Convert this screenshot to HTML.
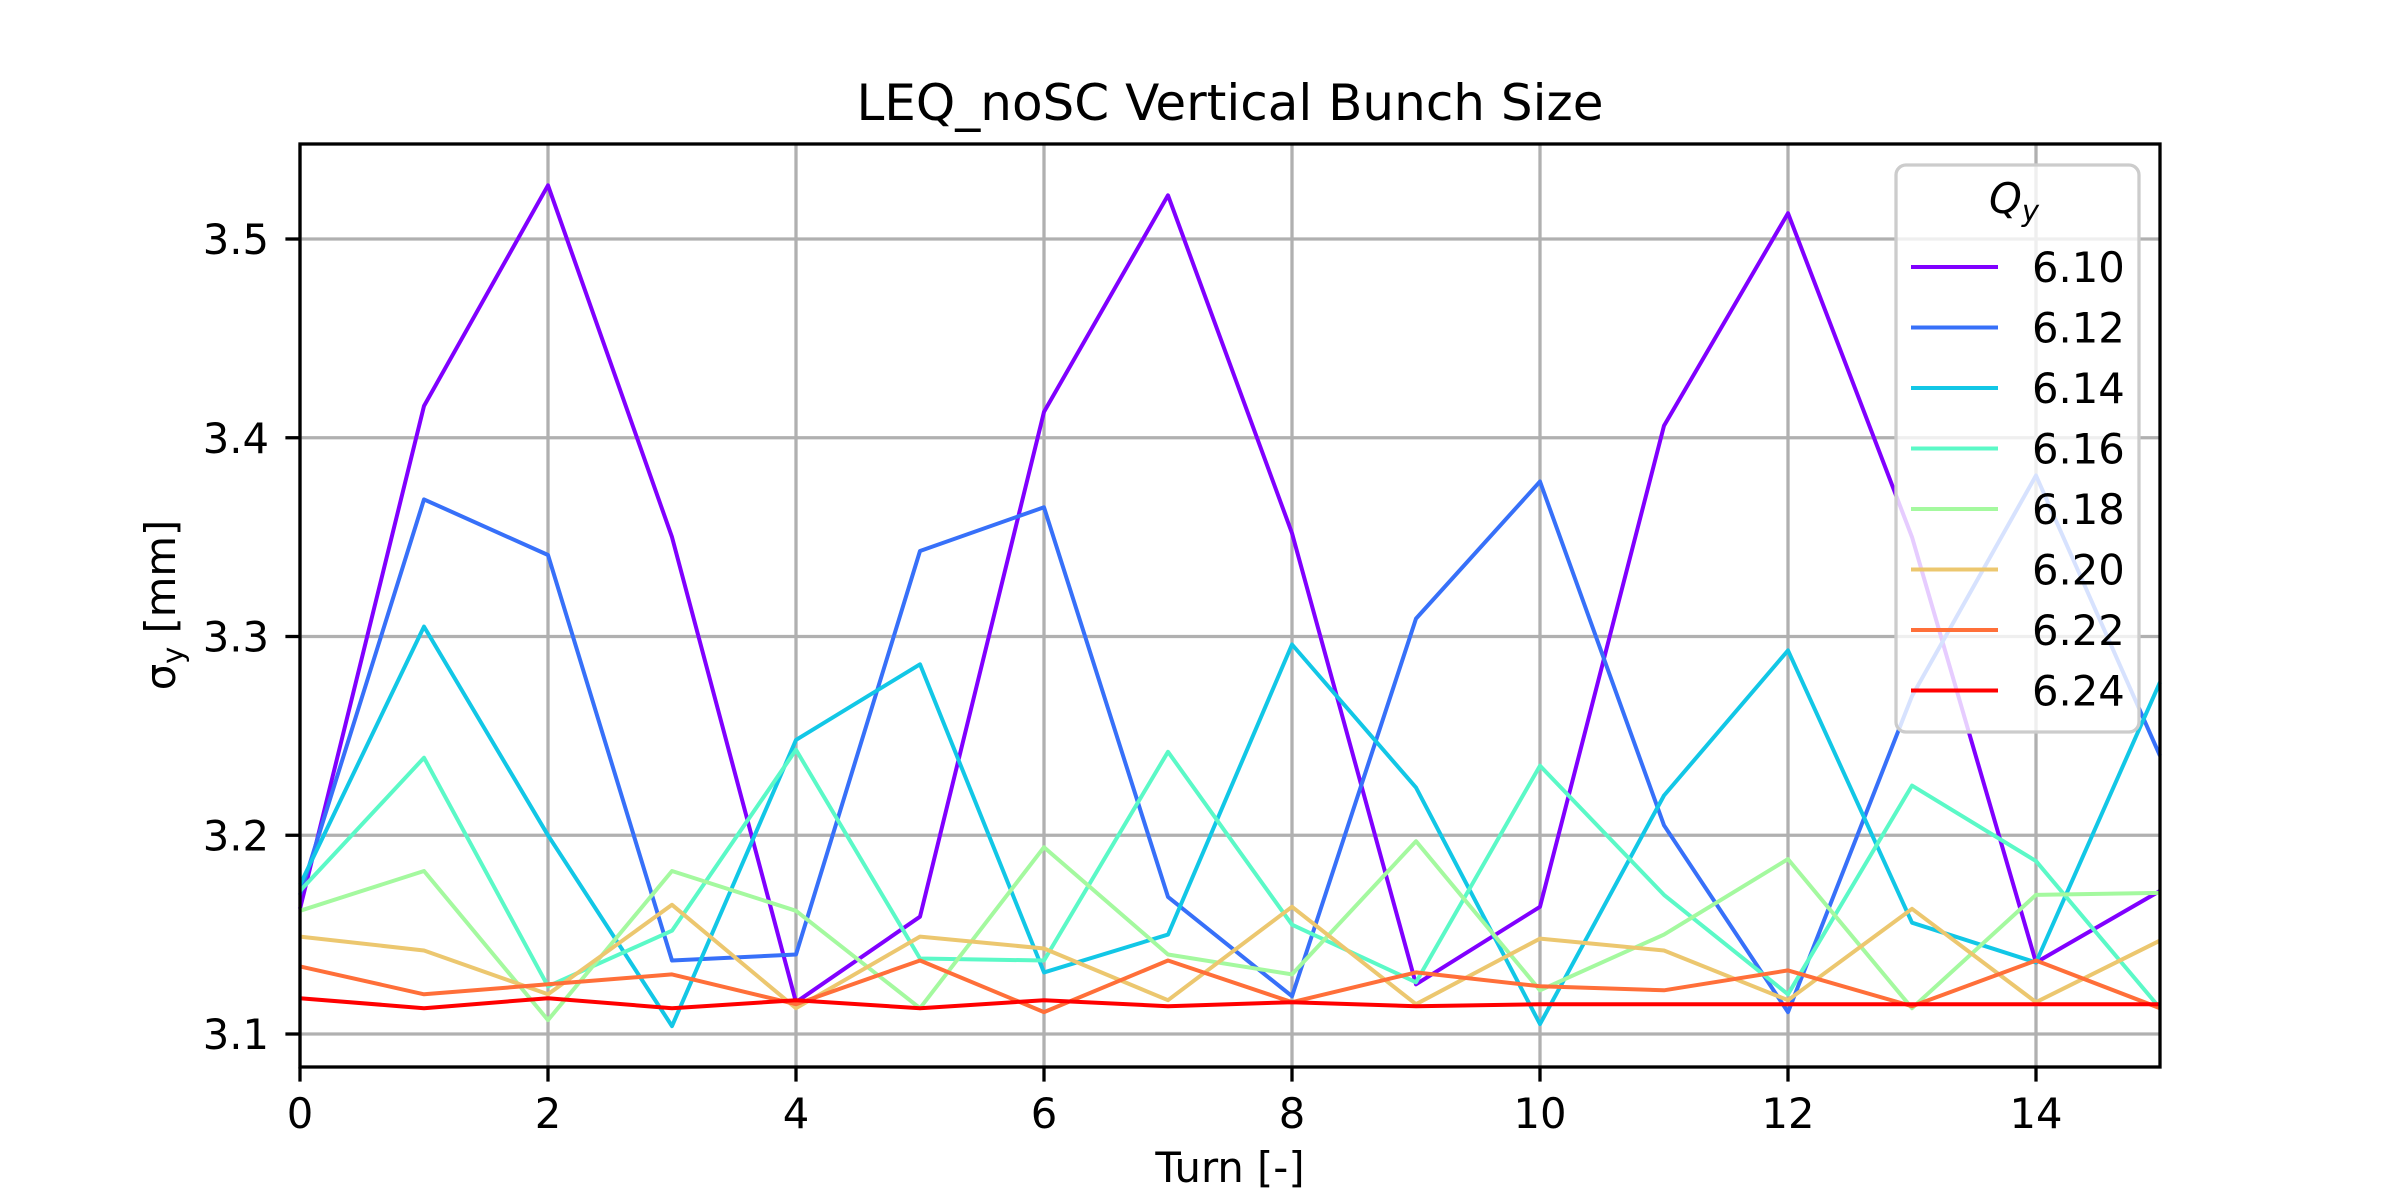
<!DOCTYPE html>
<html><head><meta charset="utf-8"><style>
html,body{margin:0;padding:0;background:#fff;}
svg{display:block;font-family:"DejaVu Sans","Liberation Sans",sans-serif;}
</style></head><body>
<svg id="chart" width="2400" height="1200" viewBox="0 0 2400 1200" xmlns="http://www.w3.org/2000/svg">
<rect width="2400" height="1200" fill="#fff"/>
<text x="1230" y="120" font-size="50" text-anchor="middle" fill="#000">LEQ_noSC Vertical Bunch Size</text>
<g id="grid"></g>
<g id="series"></g>
<rect x="300" y="144" width="1860" height="923" fill="none" stroke="#000" stroke-width="3.3"/>
<g id="ticks"></g>
<text x="1230" y="1182" font-size="41.7" text-anchor="middle">Turn [-]</text>
<text transform="translate(175,605) rotate(-90)" font-size="41.7" text-anchor="middle">σ<tspan font-size="29" dy="8">y</tspan><tspan dy="-8"> [mm]</tspan></text>
<g id="legend"></g>
</svg>
<script>
const turns=[0,1,2,3,4,5,6,7,8,9,10,11,12,13,14,15];
const labels=["6.10","6.12","6.14","6.16","6.18","6.20","6.22","6.24"];
const colors=["#8000ff","#3770f9","#12c7e6","#5bf9c7","#a4f99f","#ecc76f","#ff6f39","#ff0000"];
const s610=[3.163,3.416,3.527,3.350,3.116,3.159,3.413,3.522,3.352,3.125,3.164,3.406,3.513,3.350,3.136,3.172];
const s612=[3.170,3.369,3.341,3.137,3.140,3.343,3.365,3.169,3.119,3.309,3.378,3.205,3.111,3.270,3.381,3.240];
const s614=[3.175,3.305,3.200,3.104,3.248,3.286,3.131,3.150,3.296,3.224,3.105,3.220,3.293,3.156,3.136,3.277];
const s616=[3.172,3.239,3.124,3.152,3.243,3.138,3.137,3.242,3.155,3.126,3.235,3.170,3.120,3.225,3.187,3.113];
const s618=[3.162,3.182,3.107,3.182,3.162,3.113,3.194,3.140,3.130,3.197,3.122,3.150,3.188,3.113,3.170,3.171];
const s620=[3.149,3.142,3.120,3.165,3.113,3.149,3.143,3.117,3.164,3.115,3.148,3.142,3.117,3.163,3.116,3.147];
const s622=[3.134,3.120,3.125,3.130,3.115,3.137,3.111,3.137,3.116,3.131,3.124,3.122,3.132,3.114,3.137,3.113];
const s624=[3.118,3.113,3.118,3.113,3.117,3.113,3.117,3.114,3.116,3.114,3.115,3.115,3.115,3.115,3.115,3.115];
const xTicks=[0,2,4,6,8,10,12,14];
const yTicks=[3.1,3.2,3.3,3.4,3.5];
const allSeries=[s610,s612,s614,s616,s618,s620,s622,s624];

const NS="http://www.w3.org/2000/svg";
const L=300,R=2160,T=144,B=1067;
const xmin=0,xmax=15,ymin=3.0834,ymax=3.5478;
function xs(v){return L+(v-xmin)/(xmax-xmin)*(R-L);}
function ys(v){return B-(v-ymin)/(ymax-ymin)*(B-T);}
function mk(tag,attrs,parent){const e=document.createElementNS(NS,tag);for(const k in attrs)e.setAttribute(k,attrs[k]);parent.appendChild(e);return e;}
const grid=document.getElementById('grid'),ticks=document.getElementById('ticks'),ser=document.getElementById('series'),leg=document.getElementById('legend');
xTicks.forEach(t=>{
  const g=mk('line',{x1:xs(t),x2:xs(t),y1:T,y2:B,stroke:'#b0b0b0','stroke-width':3.3},grid);
  
  
  const tk=mk('line',{x1:xs(t),x2:xs(t),y1:B,y2:B+14.6,stroke:'#000','stroke-width':3.3},ticks);
  
  
  const tx=mk('text',{x:xs(t),y:1128,'font-size':41.7,'text-anchor':'middle'},ticks);
  tx.textContent=t;
  
  
});
yTicks.forEach(t=>{
  const g=mk('line',{x1:L,x2:R,y1:ys(t),y2:ys(t),stroke:'#b0b0b0','stroke-width':3.3},grid);
  
  
  const tk=mk('line',{x1:L-14.6,x2:L,y1:ys(t),y2:ys(t),stroke:'#000','stroke-width':3.3},ticks);
  
  
  const tx=mk('text',{x:L-31,y:ys(t)+15,'font-size':41.7,'text-anchor':'end'},ticks);
  tx.textContent=t.toFixed(1);
  
  
});
allSeries.forEach((s,i)=>{
  const pts=s.map((v,j)=>xs(turns[j]).toFixed(1)+','+ys(v).toFixed(1)).join(' ');
  const p=mk('polyline',{points:pts,fill:'none',stroke:colors[i],'stroke-width':4,'stroke-linejoin':'round'},ser);
  
  
});
const box=mk('rect',{x:1896,y:165,width:243,height:567,rx:10,fill:'#fff','fill-opacity':0.8,stroke:'#cccccc','stroke-width':3.3},leg);


const lt=mk('text',{x:2014,y:213,'font-size':41.7,'text-anchor':'middle','font-style':'italic'},leg);
lt.innerHTML='Q<tspan font-size="29" dy="8">y</tspan>';


labels.forEach((lab,i)=>{
  const y=267+i*60.5;
  const ln=mk('line',{x1:1911,x2:1998,y1:y,y2:y,stroke:colors[i],'stroke-width':4},leg);
  
  
  const tx=mk('text',{x:2032,y:y+15,'font-size':41.7},leg);
  tx.textContent=lab;
  
  
});
</script>
</body></html>
